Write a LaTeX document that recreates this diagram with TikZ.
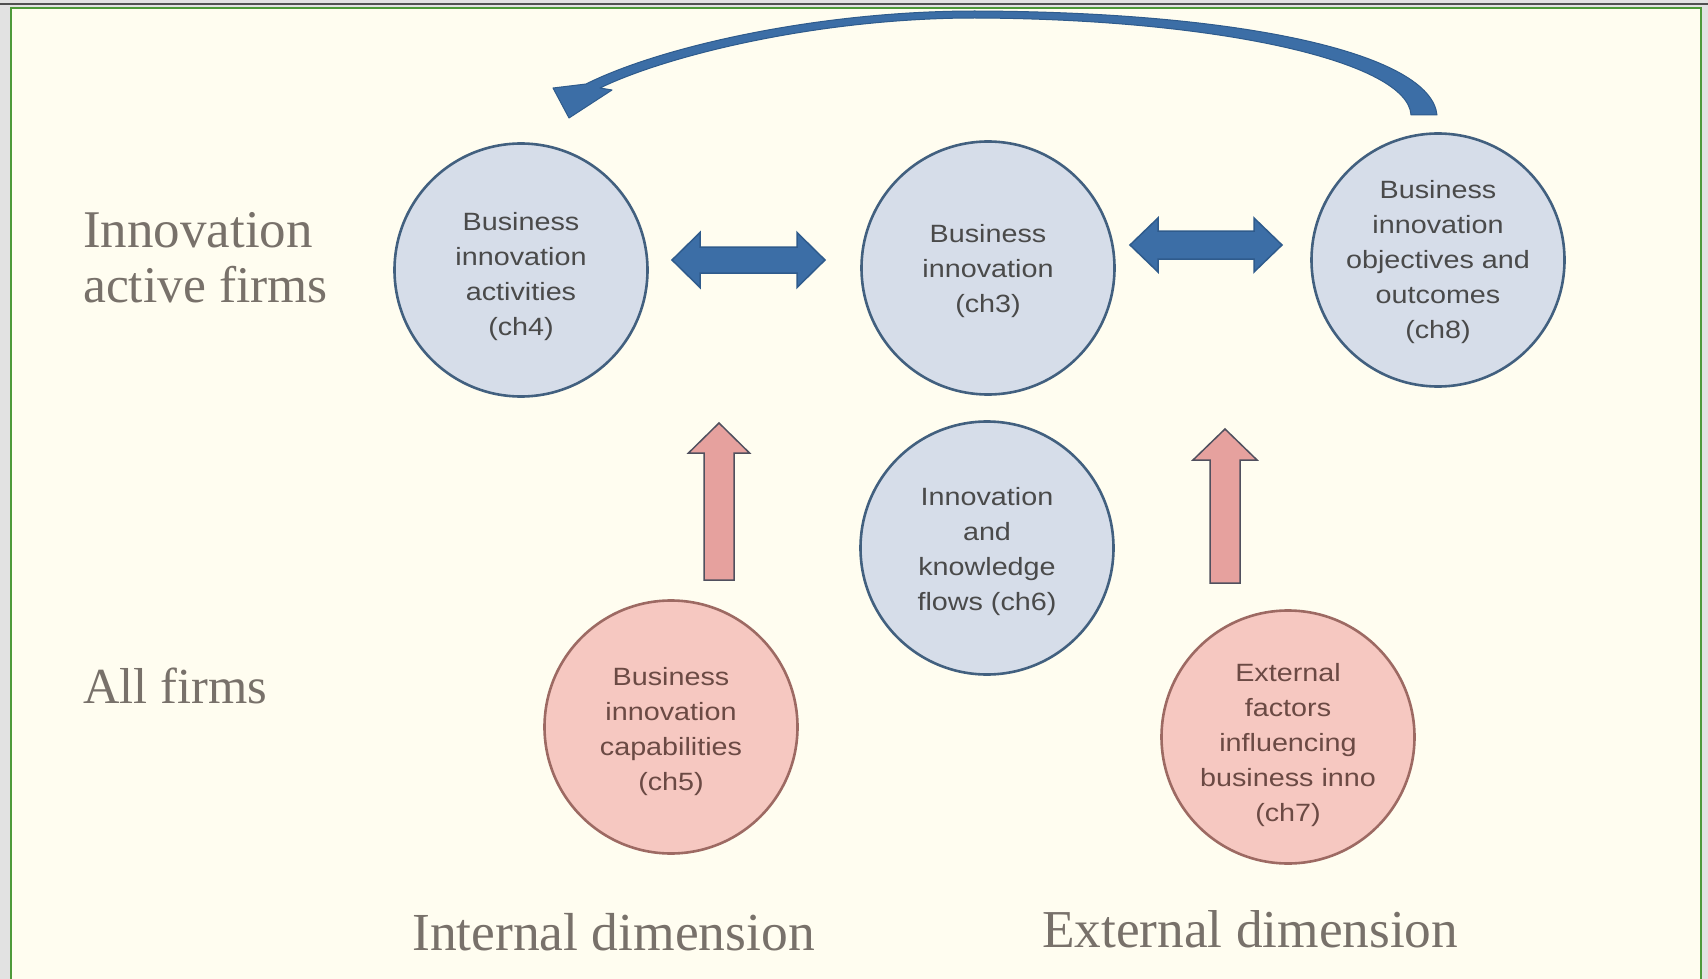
\documentclass[tikz,border=0pt]{standalone}
\usepackage{fontspec}
\setmainfont{Liberation Serif}
\newfontfamily\circfont[FakeStretch=1.15]{Liberation Sans}
\usetikzlibrary{calc}

\definecolor{pagegray}{HTML}{E2E2E2}
\definecolor{rule}{HTML}{505050}
\definecolor{framegreen}{HTML}{4E9A3A}
\definecolor{cream}{HTML}{FFFDF0}
\definecolor{labtext}{HTML}{78716A}
\definecolor{bluefill}{HTML}{D6DDE9}
\definecolor{blueedge}{HTML}{42607F}
\definecolor{bluetext}{HTML}{4A4A4A}
\definecolor{pinkfill}{HTML}{F6C8C1}
\definecolor{pinkedge}{HTML}{9D6A63}
\definecolor{pinktext}{HTML}{6B4A44}
\definecolor{arrblue}{HTML}{3C6EA6}
\definecolor{arrblueedge}{HTML}{2F5B8C}
\definecolor{arrpink}{HTML}{E6A19E}
\definecolor{arrpinkedge}{HTML}{50505E}

\tikzset{
  chap/.style={circle, minimum size=253pt, inner sep=0pt, line width=2.6pt},
  bluec/.style={chap, fill=bluefill, draw=blueedge},
  pinkc/.style={chap, fill=pinkfill, draw=pinkedge},
  ctext/.style={inner sep=0pt, align=center,
    font=\circfont\fontsize{25}{35}\selectfont},
  bluet/.style={ctext, text=bluetext},
  pinkt/.style={ctext, text=pinktext},
  lab/.style={inner sep=0pt, anchor=base west, text=labtext},
  labsize/.style={font=\fontsize{#1}{55}\selectfont},
  twohead/.style={fill=arrblue, draw=arrblueedge, line width=1.5pt, line join=miter},
  uphead/.style={fill=arrpink, draw=arrpinkedge, line width=1.5pt, line join=miter},
  arcband/.style={fill=arrblue, draw=arrblueedge, line width=1pt, line join=round}
}

% horizontal two-headed block arrow between two coordinates on one level
% #1 left end, #2 right end, #3 half shaft, #4 half head, #5 head length
\newcommand\twoheaded[5]{%
  \filldraw[twohead] (#1) -- ($(#1)+(#5,-#4)$) -- ($(#1)+(#5,-#3)$)
    -- ($(#2)+(-#5,-#3)$) -- ($(#2)+(-#5,-#4)$) -- (#2)
    -- ($(#2)+(-#5,#4)$) -- ($(#2)+(-#5,#3)$)
    -- ($(#1)+(#5,#3)$) -- ($(#1)+(#5,#4)$) -- cycle;}

% upward block arrow: #1 tip, #2 foot, #3 half shaft, #4 half head, #5 head length
\newcommand\upblock[5]{%
  \filldraw[uphead] (#1) -- ($(#1)+(#4,#5)$) -- ($(#1)+(#3,#5)$)
    -- ($(#2)+(#3,0)$) -- ($(#2)+(-#3,0)$)
    -- ($(#1)+(-#3,#5)$) -- ($(#1)+(-#4,#5)$) -- cycle;}

\begin{document}
\begin{tikzpicture}[x=1pt, y=-1pt]
  \useasboundingbox (0,0) rectangle (1708,979);

  % window frame and cream panel
  \fill[pagegray] (0,0) rectangle (1708,979);
  \draw[rule, line width=2pt] (0,4) -- (1708,4);
  \filldraw[fill=cream, draw=framegreen, line width=2.5pt] (11,8) rectangle (1701,995);

  % row labels
  \node[lab, labsize=53] (lblA) at (83,247) {Innovation};
  \node[lab, labsize=51.5] (lblB) at (83,302) {active firms};
  \node[lab, labsize=50.5] (lblC) at (83,703) {All firms};
  \node[lab, labsize=53.5] (lblD) at (412,950) {Internal dimension};
  \node[lab, labsize=53.3] (lblE) at (1042,947) {External dimension};

  % chapter circles
  \node[bluec] (ch4) at (521,270) {};
  \node[bluec] (ch3) at (988,268) {};
  \node[bluec] (ch8) at (1438,260) {};
  \node[bluec] (ch6) at (987,548) {};
  \node[pinkc] (ch5) at (671,727) {};
  \node[pinkc] (ch7) at (1288,737) {};

  % their captions
  \node[bluet] (ch4t) at ([yshift=-7pt]ch4) {Business\\innovation\\activities\\(ch4)};
  \node[bluet] (ch3t) at ([yshift=-3pt]ch3) {Business\\innovation\\(ch3)};
  \node[bluet] (ch8t) at ([yshift=-2pt]ch8) {Business\\innovation\\objectives and\\outcomes\\(ch8)};
  \node[bluet] (ch6t) at ([yshift=-4pt]ch6) {Innovation\\and\\knowledge\\flows (ch6)};
  \node[pinkt] (ch5t) at ([yshift=-5pt]ch5) {Business\\innovation\\capabilities\\(ch5)};
  \node[pinkt] (ch7t) at ([yshift=-8pt]ch7) {External\\factors\\influencing\\business inno\\(ch7)};

  % two-headed links in the top row
  \coordinate (dAl) at (672,260);
  \coordinate (dAr) at (825,260);
  \coordinate (dBl) at (1130,245);
  \coordinate (dBr) at (1282,245);
  \twoheaded{dAl}{dAr}{13}{27.5}{28}
  \twoheaded{dBl}{dBr}{14}{27}{28}

  % upward influence arrows
  \coordinate (uAt) at (719,423);
  \coordinate (uAb) at (719,580);
  \coordinate (uBt) at (1225,429);
  \coordinate (uBb) at (1225,583);
  \upblock{uAt}{uAb}{15}{30.5}{30}
  \upblock{uBt}{uBb}{15}{32}{31}

  % tapered feedback arc from outcomes back to activities
  \coordinate (arcR) at (1424,115);
  \coordinate (arcL) at (569,118);
  \filldraw[arcband]
    (1437,115) .. controls (1431,55) and (1250,12) .. (975,11)
    .. controls (820,11) and (662,46) .. (586,84)
    -- (553,88) -- (arcL) -- (612,90) -- (600,88)
    .. controls (668,55) and (820,18) .. (975,18)
    .. controls (1220,19) and (1408,62) .. (1411,115) -- cycle;
\end{tikzpicture}
\end{document}
